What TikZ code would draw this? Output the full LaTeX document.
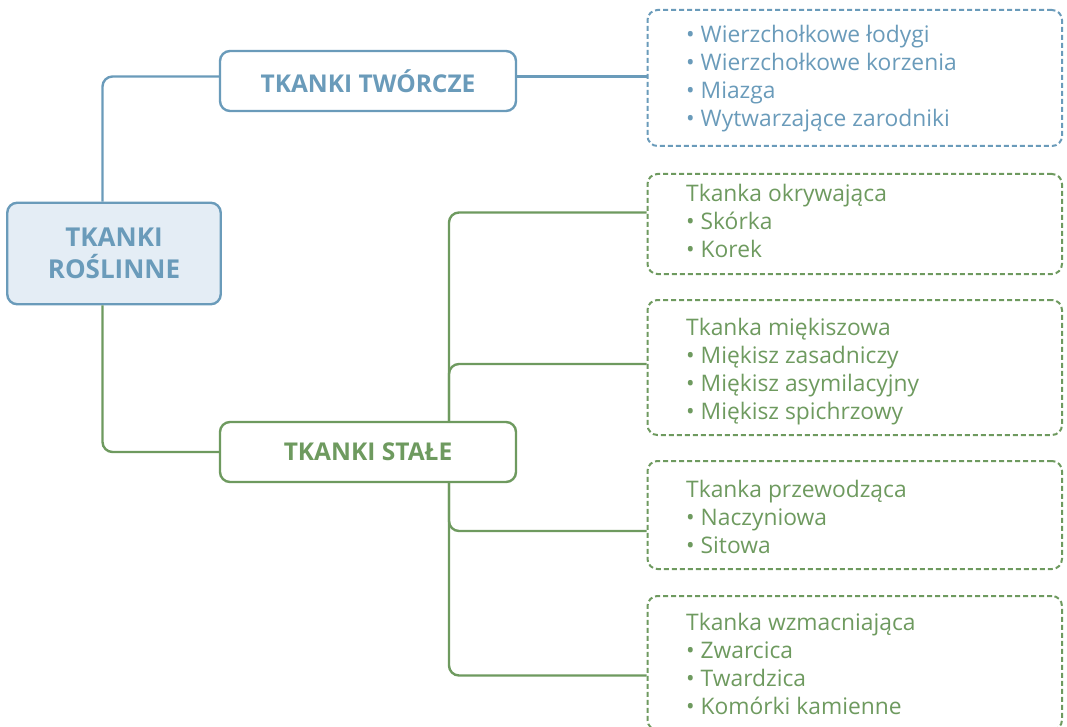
\documentclass[tikz,border=0pt]{standalone}
\usepackage{fontspec}
\setmainfont{Open Sans}
\definecolor{cblue}{HTML}{6A9BBA}
\definecolor{cbluefill}{HTML}{E4EDF5}
\definecolor{cgreen}{HTML}{6E9A5F}
\tikzset{
  titlebox/.style={draw, rounded corners=10pt, line width=2.4pt, fill=white, minimum width=296pt, minimum height=60pt, inner sep=0pt, font=\fontsize{24.5}{28}\selectfont\bfseries},
  rootbox/.style={draw=cblue, fill=cbluefill, rounded corners=10pt, line width=2.4pt, minimum width=213.5pt, minimum height=101.5pt, inner sep=0pt, text=cblue, align=center, font=\fontsize{26}{32}\selectfont\bfseries},
  dbox/.style={draw, dash pattern=on 5pt off 3pt, rounded corners=10pt, line width=2pt, minimum width=414.5pt, inner sep=0pt},
  itemtext/.style={anchor=base west, inner sep=0pt},
  link/.style={line width=2.4pt, rounded corners=10pt},
}
\newcommand{\boxlines}[1]{\parbox[t]{370pt}{\raggedright\fontsize{22.8}{28}\selectfont #1}}
\begin{document}
\begin{tikzpicture}[x=1pt,y=-1pt]
\useasboundingbox (0,0) rectangle (1067,727);
% nodes
\node[rootbox] (root) at (114,253.5) {TKANKI\\ROŚLINNE};
\node[titlebox, draw=cblue, text=cblue] (tw) at (368,81) {TKANKI TWÓRCZE};
\node[titlebox, draw=cgreen, text=cgreen] (st) at (368,452) {TKANKI STAŁE};
\node[dbox, draw=cblue, minimum height=136pt] (b0) at (854.75,78) {};
\node[dbox, draw=cgreen, minimum height=100pt] (b1) at (854.75,224) {};
\node[dbox, draw=cgreen, minimum height=135pt] (b2) at (854.75,367.5) {};
\node[dbox, draw=cgreen, minimum height=108pt] (b3) at (854.75,515) {};
\node[dbox, draw=cgreen, minimum height=134pt] (b4) at (854.75,663) {};
% texts
\node[itemtext, text=cblue] (t0) at (686,43) {\boxlines{• Wierzchołkowe łodygi\\• Wierzchołkowe korzenia\\• Miazga\\• Wytwarzające zarodniki}};
\node[itemtext, text=cgreen] (t1) at (686,202) {\boxlines{Tkanka okrywająca\\• Skórka\\• Korek}};
\node[itemtext, text=cgreen] (t2) at (686,335) {\boxlines{Tkanka miękiszowa\\• Miękisz zasadniczy\\• Miękisz asymilacyjny\\• Miękisz spichrzowy}};
\node[itemtext, text=cgreen] (t3) at (686,497) {\boxlines{Tkanka przewodząca\\• Naczyniowa\\• Sitowa}};
\node[itemtext, text=cgreen] (t4) at (686,630) {\boxlines{Tkanka wzmacniająca\\• Zwarcica\\• Twardzica\\• Komórki kamienne}};
% attach points
\coordinate (p1) at (b1.west |- 0,212.5);
\coordinate (p2) at (b2.west |- 0,364);
\coordinate (p3) at (b3.west |- 0,531);
\coordinate (p4) at (b4.west |- 0,675.5);
% connectors
\draw[link, cblue] ([xshift=-11.5pt]root.north) |- ([yshift=4.5pt]tw.west);
\draw[link, cblue] ([yshift=4.5pt]tw.east) -- ([yshift=4.5pt]tw.east -| b0.west);
\draw[link, cgreen] ([xshift=-11.5pt]root.south) |- (st.west);
\draw[link, cgreen] ([xshift=81pt]st.north) |- (p1);
\draw[link, cgreen] ([xshift=81pt]st.north) |- (p2);
\draw[link, cgreen] ([xshift=81pt]st.south) |- (p3);
\draw[link, cgreen] ([xshift=81pt]st.south) |- (p4);
\end{tikzpicture}
\end{document}
